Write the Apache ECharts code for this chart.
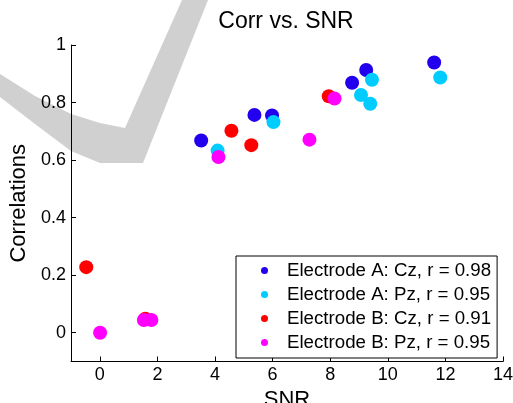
<!DOCTYPE html>
<html>
<head>
    <meta charset="utf-8">
    <script src="https://cdn.jsdelivr.net/npm/echarts@6/dist/echarts.min.js"></script>
</head>
<body style="margin:0;">
    <div id="main" style="width:513px;height:403px;"></div>
    <script type="text/javascript">
        // data
        var seriesNames = ['Electrode A: Cz, r = 0.98', 'Electrode A: Pz, r = 0.95',
                           'Electrode B: Cz, r = 0.91', 'Electrode B: Pz, r = 0.95'];
        var seriesColors = ['#2200ee', '#00ccff', '#ff0000', '#ff00ff'];

        var snrACz  = [3.52, 5.37, 5.98, 8.76, 9.25, 11.61];
        var corrACz = [0.668, 0.757, 0.755, 0.869, 0.913, 0.939];
        var snrAPz  = [4.09, 6.03, 9.07, 9.39, 9.45, 11.82];
        var corrAPz = [0.633, 0.732, 0.826, 0.796, 0.879, 0.887];
        var snrBCz  = [-0.47, 1.58, 4.57, 5.26, 7.95];
        var corrBCz = [0.228, 0.049, 0.702, 0.652, 0.822];
        var snrBPz  = [0.01, 1.53, 1.79, 4.12, 7.28, 8.15];
        var corrBPz = [0.0, 0.044, 0.044, 0.611, 0.671, 0.814];

        var xTicks = [0, 2, 4, 6, 8, 10, 12, 14];
        var yTicks = [0, 0.2, 0.4, 0.6, 0.8, 1];

        function pairs(xs, ys) {
            var out = [];
            for (var i = 0; i < xs.length; i++) {
                out.push([xs[i], ys[i]]);
            }
            return out;
        }

        var allData = [
            pairs(snrACz, corrACz),
            pairs(snrAPz, corrAPz),
            pairs(snrBCz, corrBCz),
            pairs(snrBPz, corrBPz)
        ];

        var series = [];
        for (var k = 0; k < seriesNames.length; k++) {
            series.push({
                name: seriesNames[k],
                type: 'scatter',
                symbol: 'circle',
                symbolSize: 14,
                itemStyle: {color: seriesColors[k], opacity: 1},
                data: allData[k]
            });
        }

        var font = 'Liberation Sans';
        var myChart = echarts.init(document.getElementById('main'));
        var option = {
            animation: false,
            backgroundColor: '#fff',
            textStyle: {fontFamily: font},
            title: {
                text: 'Corr vs. SNR',
                left: 286,
                top: 10,
                padding: 0,
                textAlign: 'center',
                textStyle: {fontFamily: font, fontSize: 23, fontWeight: 'normal', color: '#000'}
            },
            // grey swoosh in the back
            graphic: [{
                type: 'polygon',
                z: -10,
                shape: {
                    points: [[0, 74], [35, 96], [71, 114], [100, 123], [125, 128], [182, 0],
                             [208, 0], [143, 163], [100, 163], [71, 151], [35, 124], [0, 97]]
                },
                style: {fill: '#d0d0d0'}
            }],
            grid: {left: 71, right: 10, top: 45, bottom: 41.5, outerBoundsMode: 'none'},
            legend: {
                data: seriesNames.map(function (n) { return {name: n, icon: 'circle'}; }),
                orient: 'vertical',
                left: 236,
                top: 256,
                padding: [5, 6, 6, 25],
                itemWidth: 7,
                itemHeight: 7,
                itemGap: 5,
                borderColor: '#000',
                borderWidth: 1,
                backgroundColor: '#fff',
                textStyle: {fontFamily: font, fontSize: 18.7, color: '#000', padding: [0, 0, 0, 14]}
            },
            xAxis: {
                type: 'value',
                min: -1,
                max: 14,
                name: 'SNR',
                nameLocation: 'middle',
                nameGap: 24,
                nameTextStyle: {fontFamily: font, fontSize: 22, color: '#000'},
                axisLine: {onZero: false, lineStyle: {color: '#000', width: 1}},
                axisTick: {inside: true, length: 5, customValues: xTicks, lineStyle: {color: '#000'}},
                axisLabel: {customValues: xTicks, fontFamily: font, fontSize: 18, color: '#000', margin: 5},
                splitLine: {show: false}
            },
            yAxis: {
                type: 'value',
                min: -0.1,
                max: 1,
                name: 'Correlations',
                nameLocation: 'middle',
                nameGap: 34,
                nameTextStyle: {fontFamily: font, fontSize: 22, color: '#000'},
                axisLine: {show: true, onZero: false, lineStyle: {color: '#000', width: 1}},
                axisTick: {show: true, inside: true, length: 5, customValues: yTicks, lineStyle: {color: '#000'}},
                axisLabel: {customValues: yTicks, fontFamily: font, fontSize: 18, color: '#000', margin: 5,
                    formatter: function (v) { return String(+v.toFixed(1)); }},
                splitLine: {show: false}
            },
            series: series
        };
        myChart.setOption(option);
    </script>
</body>
</html>
